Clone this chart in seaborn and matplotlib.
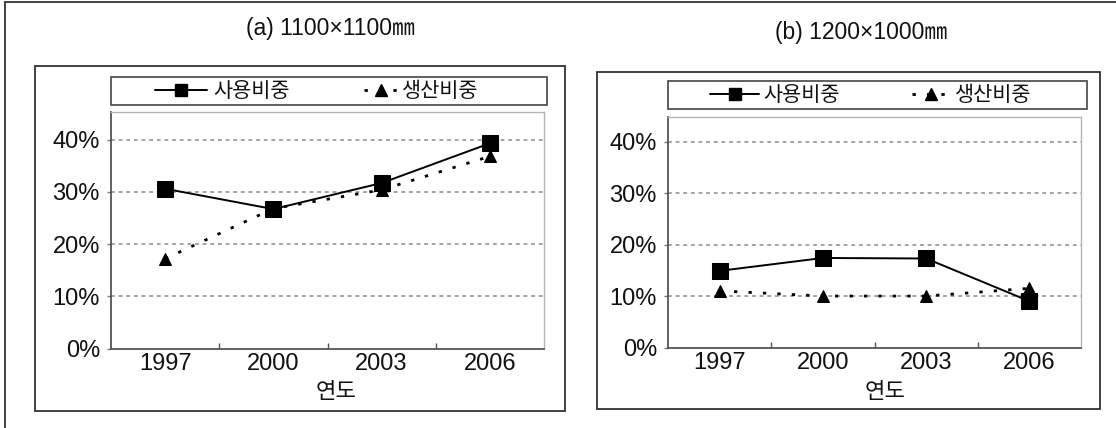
import matplotlib
matplotlib.use("Agg")
import matplotlib.pyplot as plt
from matplotlib.lines import Line2D
from matplotlib.patches import Rectangle
from matplotlib.ticker import FixedLocator
import seaborn as sns

# Data
years = [1997, 2000, 2003, 2006]
use_a = [30.6, 26.7, 31.7, 39.3]      # 사용비중 (a)
prod_a = [17.2, 26.8, 30.4, 36.8]     # 생산비중 (a)
use_b = [14.9, 17.4, 17.3, 9.0]       # 사용비중 (b)
prod_b = [11.0, 10.0, 10.0, 11.5]     # 생산비중 (b)
y_ticks = [0, 10, 20, 30, 40]
y_tick_labels = ["0%", "10%", "20%", "30%", "40%"]
series_names = ["사용비중", "생산비중"]
titles = ["(a) 1100×1100㎜", "(b) 1200×1000㎜"]
x_label = "연도"

sns.set_theme(style="white")
plt.rcParams["font.family"] = ["Liberation Sans", "Noto Sans CJK KR", "DejaVu Sans"]

W, H = 1116, 428
fig = plt.figure(figsize=(W / 100, H / 100), dpi=100)
fig.patch.set_facecolor("white")

KR = ["Noto Sans CJK KR", "DejaVu Sans"]
NUM = ["Liberation Sans", "Noto Sans CJK KR", "DejaVu Sans"]


def fx(x):
    return x / W


def fy(y):
    return 1 - y / H


def box(x0, y0, x1, y1, color="#333333", lw=1.3):
    fig.add_artist(Rectangle((fx(x0), fy(y1)), fx(x1) - fx(x0), fy(y0) - fy(y1),
                             transform=fig.transFigure, fill=False,
                             edgecolor=color, linewidth=lw))


# outer frame (left and top edges)
fig.add_artist(Line2D([fx(5), fx(5)], [fy(2), fy(428)], transform=fig.transFigure,
                      color="#333333", lw=1.3))
fig.add_artist(Line2D([fx(5), fx(1116)], [fy(2), fy(2)], transform=fig.transFigure,
                      color="#333333", lw=1.3))

panels = [
    dict(use=use_a, prod=prod_a, title=titles[0], title_xy=(330, 28),
         frame=(35, 66, 565, 411), legend_box=(111, 77, 547, 105), legend_y=91,
         leg1=(155, 52, 6), leg2=(364, 34, 4),
         ax_rect=(111, 112, 544, 348.5), ylim=45.3, xlabel_xy=(336, 392)),
    dict(use=use_b, prod=prod_b, title=titles[1], title_xy=(861, 32),
         frame=(597, 72, 1100, 409), legend_box=(668, 81, 1087, 109), legend_y=95,
         leg1=(710, 49, 4), leg2=(912, 38, 5),
         ax_rect=(668, 117, 1081, 347.5), ylim=44.8, xlabel_xy=(885, 392)),
]

LEG_FS = 15
em = LEG_FS * 100 / 72  # legend font size in pixels

for p in panels:
    box(*p["frame"])
    box(*p["legend_box"], color="#444444", lw=1.2)
    fig.text(fx(p["title_xy"][0]), fy(p["title_xy"][1]), p["title"],
             ha="center", va="center", fontsize=16.5, family=NUM, color="#111111")

    x0, y0, x1, y1 = p["ax_rect"]
    ax = fig.add_axes([fx(x0), fy(y1), fx(x1) - fx(x0), fy(y0) - fy(y1)])
    ax.set_facecolor("white")

    for gv in y_ticks[1:]:
        ax.axhline(gv, color="#8a8a8a", lw=1.1, linestyle=(0, (2.5, 2.5)), zorder=0)

    sns.lineplot(x=years, y=p["prod"], ax=ax, color="black", lw=2.0,
                 linestyle=(0, (1.2, 4)), marker="^", markersize=9,
                 markeredgecolor="black", markerfacecolor="black", zorder=3)
    sns.lineplot(x=years, y=p["use"], ax=ax, color="black", lw=1.4,
                 marker="s", markersize=11.5,
                 markeredgecolor="black", markerfacecolor="black", zorder=4)

    ax.set_xlim(1995.5, 2007.5)
    ax.set_ylim(0, p["ylim"])
    ax.set_xticks(years)
    ax.set_xticklabels([str(y) for y in years])
    ax.xaxis.set_minor_locator(FixedLocator([1998.5, 2001.5, 2004.5]))
    ax.set_yticks(y_ticks)
    ax.set_yticklabels(y_tick_labels)
    ax.tick_params(axis="x", which="major", length=0, pad=3, labelsize=17,
                   labelcolor="#111111")
    ax.tick_params(axis="x", which="minor", bottom=True, direction="in", length=4,
                   width=1, color="#555555")
    ax.tick_params(axis="y", which="major", left=True, direction="out", length=3,
                   width=1, color="#777777", pad=5, labelsize=17, labelcolor="#111111")
    for lab in ax.get_xticklabels() + ax.get_yticklabels():
        lab.set_family(NUM)
    ax.set_xlabel("")
    ax.set_ylabel("")
    for side in ["left", "bottom"]:
        ax.spines[side].set_color("#555555")
        ax.spines[side].set_linewidth(1.3)
    for side in ["top", "right"]:
        ax.spines[side].set_color("#b5b5b5")
        ax.spines[side].set_linewidth(1.0)

    fig.text(fx(p["xlabel_xy"][0]), fy(p["xlabel_xy"][1]), x_label,
             ha="center", va="center", fontsize=16, family=KR, color="#111111")

    # legend entries
    h_use = Line2D([], [], color="black", lw=1.4, marker="s", markersize=9,
                   markeredgecolor="black", markerfacecolor="black")
    h_prod = Line2D([], [], color="black", lw=2.0, linestyle=(0, (1.2, 4)),
                    marker="^", markersize=8, markeredgecolor="black",
                    markerfacecolor="black")
    for handle, name, (lx, hl, pad) in [(h_use, series_names[0], p["leg1"]),
                                        (h_prod, series_names[1], p["leg2"])]:
        leg = fig.legend([handle], [name], loc="center left",
                         bbox_to_anchor=(fx(lx), fy(p["legend_y"])),
                         bbox_transform=fig.transFigure, frameon=False,
                         borderpad=0, borderaxespad=0, handlelength=hl / em,
                         handletextpad=pad / em, numpoints=1,
                         prop={"family": KR, "size": LEG_FS})
        for t in leg.get_texts():
            t.set_color("#111111")

fig.savefig("out.png", dpi=100, facecolor="white")
